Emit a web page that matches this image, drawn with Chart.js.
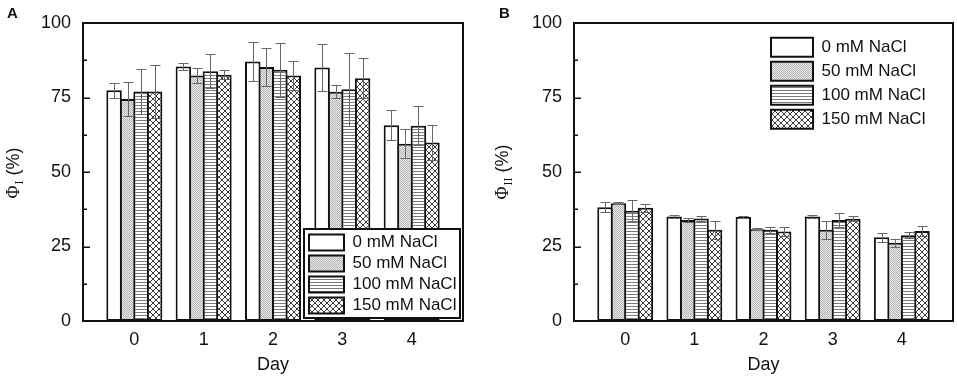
<!DOCTYPE html>
<html><head><meta charset="utf-8">
<script src="https://cdn.jsdelivr.net/npm/chart.js@4.4.1/dist/chart.umd.min.js"></script>
<style>
html,body{margin:0;padding:0;background:#fff;}
#wrap{position:relative;width:957px;height:378px;overflow:hidden;}
canvas{position:absolute;top:0;}
</style></head><body>
<div id="wrap">
<canvas id="cA" width="478" height="378" style="left:0"></canvas>
<canvas id="cB" width="479" height="378" style="left:478px"></canvas>
</div>
<script>
// ---------- data ----------
const days = [0, 1, 2, 3, 4];
const seriesNames = ['0 mM NaCl', '50 mM NaCl', '100 mM NaCl', '150 mM NaCl'];
const yTicks = [0, 25, 50, 75, 100];

// Panel A: PSI quantum yield (%)
const phiI_0mM   = [77.4, 85.4, 87.1, 85.1, 65.7];
const phiI_50mM  = [74.5, 82.4, 85.2, 76.9, 59.5];
const phiI_100mM = [77.0, 83.8, 84.3, 77.8, 65.5];
const phiI_150mM = [77.0, 82.6, 82.4, 81.5, 59.9];
const errI_0mM   = [2.5, 1.2, 6.6, 7.8, 5.1];
const errI_50mM  = [5.6, 2.5, 6.3, 2.2, 4.8];
const errI_100mM = [7.4, 5.7, 9.0, 12.2, 6.5];
const errI_150mM = [8.9, 1.5, 5.0, 6.7, 5.8];

// Panel B: PSII quantum yield (%)
const phiII_0mM   = [38.2, 35.1, 34.9, 35.1, 28.1];
const phiII_50mM  = [39.5, 33.9, 30.8, 30.6, 26.3];
const phiII_100mM = [37.0, 34.4, 30.6, 33.9, 28.8];
const phiII_150mM = [38.0, 30.6, 30.0, 34.3, 30.2];
const errII_0mM   = [1.6, 0.5, 0.3, 0.4, 1.5];
const errII_50mM  = [0.4, 0.8, 0.3, 3.1, 1.3];
const errII_100mM = [3.6, 1.0, 1.1, 2.2, 0.9];
const errII_150mM = [1.4, 3.0, 1.5, 0.8, 1.8];

// ---------- styles ----------
const SANS = '"Liberation Sans", Arial, sans-serif';
const SERIF = '"Liberation Serif", "Times New Roman", serif';
const INK = '#111';

function makeTile(w, h, fn) {
  const c = document.createElement('canvas'); c.width = w; c.height = h;
  const x = c.getContext('2d'); x.fillStyle = '#fff'; x.fillRect(0, 0, w, h); fn(x);
  return c;
}
function patterns(ctx) {
  const white = '#ffffff';
  const dots = ctx.createPattern(makeTile(2, 2, x => {
    x.fillStyle = '#ebebeb'; x.fillRect(0, 0, 2, 2);
    x.fillStyle = '#b4b4b4'; x.fillRect(0, 0, 1, 1); x.fillRect(1, 1, 1, 1);
  }), 'repeat');
  const lines = ctx.createPattern(makeTile(4, 3, x => {
    x.fillStyle = '#7a7a7a'; x.fillRect(0, 0, 4, 1);
  }), 'repeat');
  const cross = ctx.createPattern(makeTile(6, 6, x => {
    x.fillStyle = '#3a3a3a';
    for (let i = 0; i < 6; i++) { x.fillRect(i, i, 1, 1); x.fillRect(i, 5 - i, 1, 1); }
  }), 'repeat');
  return [white, dots, lines, cross];
}

// ---------- plugins ----------
const errorBars = {
  id: 'errorBars',
  afterDatasetsDraw(chart) {
    const ctx = chart.ctx, ys = chart.scales.y;
    ctx.save();
    ctx.strokeStyle = '#666'; ctx.lineWidth = 1;
    chart.data.datasets.forEach((ds, di) => {
      const meta = chart.getDatasetMeta(di);
      meta.data.forEach((bar, j) => {
        const v = ds.data[j].y, e = ds.err[j];
        const x = Math.round(bar.x) + 0.5;
        const yt = Math.round(ys.getPixelForValue(v + e)) + 0.5;
        const yb = Math.round(ys.getPixelForValue(v - e)) + 0.5;
        ctx.beginPath();
        ctx.moveTo(x, yt); ctx.lineTo(x, yb);
        ctx.moveTo(x - 5, yt); ctx.lineTo(x + 5, yt);
        ctx.moveTo(x - 5, yb); ctx.lineTo(x + 5, yb);
        ctx.stroke();
      });
    });
    ctx.restore();
  }
};

const frameAndTicks = {
  id: 'frameAndTicks',
  afterDatasetsDraw(chart, args, opts) {
    const ctx = chart.ctx, a = chart.chartArea, ys = chart.scales.y;
    ctx.save();
    ctx.strokeStyle = INK;
    // inward ticks on the y axis
    ctx.lineWidth = 1.5;
    ctx.beginPath();
    for (let v = 0; v <= 100; v += 12.5) {
      const y = Math.round(ys.getPixelForValue(v)) + 0.25;
      const len = (v % 25 === 0) ? 7 : 4;
      ctx.moveTo(a.left, y); ctx.lineTo(a.left + len, y);
    }
    ctx.stroke();
    // plot box
    ctx.lineWidth = 2;
    ctx.strokeRect(a.left, a.top, a.right - a.left, a.bottom - a.top);
    // legend frame / background
    const f = opts.legendBox;
    ctx.fillStyle = '#fff';
    ctx.fillRect(f.x, f.y, f.w, f.h);
    if (opts.frame) { ctx.lineWidth = 2; ctx.strokeRect(f.x, f.y, f.w, f.h); }
    ctx.restore();
  }
};

const placeLegend = {
  id: 'placeLegend',
  beforeLayout(chart) {
    const lg = chart.legend;
    if (lg && !lg._moved) {
      lg._layers = () => [{ z: 10, draw: (ca) => lg.draw(ca) }];
      lg._moved = true;
    }
  },
  afterLayout(chart, args, opts) {
    const lg = chart.legend;
    lg.left = opts.x; lg.top = opts.y;
    lg.right = opts.x + opts.w; lg.bottom = opts.y + opts.h;
    lg.width = opts.w; lg.height = opts.h;
  }
};

const labelsPlugin = {
  id: 'labelsPlugin',
  afterDraw(chart, args, opts) {
    const ctx = chart.ctx;
    ctx.save();
    ctx.fillStyle = INK;
    ctx.textAlign = 'left'; ctx.textBaseline = 'alphabetic';
    ctx.font = 'bold 15px ' + SANS;
    ctx.fillText(opts.panel, opts.panelX, 18);
    // rotated y title: Φ with subscript, then (%)
    ctx.translate(opts.tx, opts.ty);
    ctx.rotate(-Math.PI / 2);
    const f1 = '18px ' + SERIF, f2 = '12px ' + SERIF, f3 = '18px ' + SANS;
    ctx.font = f1; const w1 = ctx.measureText('Φ').width;
    ctx.font = f2; const w2 = ctx.measureText(opts.sub).width;
    ctx.font = f3; const w3 = ctx.measureText(' (%)').width;
    let x = -(w1 + 1 + w2 + w3) / 2;
    const base = 6;
    ctx.font = f1; ctx.fillText('Φ', x, base); x += w1 + 1;
    ctx.font = f2; ctx.fillText(opts.sub, x, base + 4); x += w2;
    ctx.font = f3; ctx.fillText(' (%)', x, base);
    ctx.restore();
  }
};

// ---------- chart factory ----------
function build(canvasId, vals, errs, cfg) {
  const canvas = document.getElementById(canvasId);
  const ctx = canvas.getContext('2d');
  const fills = patterns(ctx);
  const datasets = vals.map((arr, i) => ({
    label: seriesNames[i],
    data: days.map((d, j) => ({ x: d, y: arr[j] })),
    err: errs[i],
    backgroundColor: fills[i],
    borderColor: INK,
    borderWidth: 2,
    borderSkipped: false,
    categoryPercentage: 0.779,
    barPercentage: 1.148
  }));
  return new Chart(ctx, {
    type: 'bar',
    data: { datasets },
    plugins: [errorBars, frameAndTicks, placeLegend, labelsPlugin],
    options: {
      responsive: false,
      animation: false,
      events: [],
      layout: { padding: { left: 0, top: 23, right: cfg.padRight, bottom: 0 } },
      scales: {
        x: {
          type: 'linear',
          offset: false,
          min: -0.74, max: 4.74,
          afterBuildTicks: s => { s.ticks = days.map(v => ({ value: v })); },
          afterFit: s => { s.height = 57; },
          grid: { display: false, drawTicks: false, offset: false },
          border: { display: false },
          ticks: { color: INK, font: { family: SANS, size: 18 }, padding: 8, callback: v => String(v) },
          title: { display: true, text: 'Day', color: INK, font: { family: SANS, size: 18 }, padding: { top: 0, bottom: 2 } }
        },
        y: {
          min: 0, max: 100,
          afterBuildTicks: s => { s.ticks = yTicks.map(v => ({ value: v })); },
          afterFit: s => { s.width = cfg.yWidth; },
          grid: { display: false, drawTicks: false },
          border: { display: false },
          ticks: { color: INK, font: { family: SANS, size: 18 }, padding: 12 }
        }
      },
      plugins: {
        tooltip: { enabled: false },
        legend: {
          position: 'chartArea',
          align: 'start',
          labels: {
            color: INK,
            font: { family: SANS, size: 17 },
            boxWidth: cfg.boxW, boxHeight: cfg.boxH, padding: cfg.legPad
          }
        },
        placeLegend: cfg.legendPos,
        frameAndTicks: { frame: cfg.frame, legendBox: cfg.legendBox },
        labelsPlugin: cfg.labels
      }
    }
  });
}

build('cA',
  [phiI_0mM, phiI_50mM, phiI_100mM, phiI_150mM],
  [errI_0mM, errI_50mM, errI_100mM, errI_150mM],
  {
    padRight: 15, yWidth: 83,
    boxW: 35, boxH: 16, legPad: 4,
    legendPos: { x: 305, y: 230, w: 160, h: 100 },
    frame: true, legendBox: { x: 304, y: 229, w: 156, h: 89 },
    labels: { panel: 'A', panelX: 7, sub: 'I', tx: 13, ty: 173 }
  });

build('cB',
  [phiII_0mM, phiII_50mM, phiII_100mM, phiII_150mM],
  [errII_0mM, errII_50mM, errII_100mM, errII_150mM],
  {
    padRight: 4, yWidth: 96,
    boxW: 42, boxH: 19, legPad: 5,
    legendPos: { x: 288, y: 32.7, w: 180, h: 110 },
    frame: false, legendBox: { x: 290, y: 33, w: 175, h: 98 },
    labels: { panel: 'B', panelX: 21, sub: 'II', tx: 24, ty: 172 }
  });
</script>
</body></html>
